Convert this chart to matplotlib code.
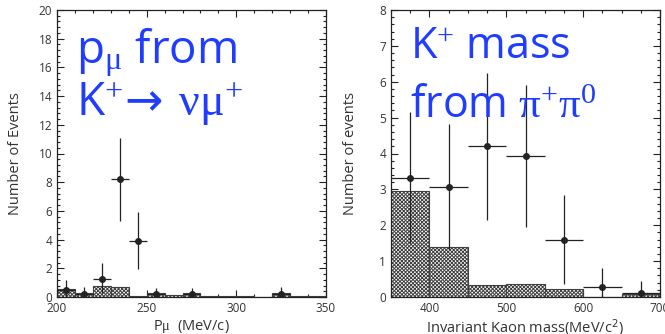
import numpy as np
import matplotlib
matplotlib.use("Agg")
import matplotlib.pyplot as plt
from matplotlib.ticker import MultipleLocator

plt.rcParams["font.family"] = ["Open Sans", "DejaVu Sans"]
plt.rcParams["mathtext.fontset"] = "custom"
plt.rcParams["mathtext.rm"] = "Liberation Serif"
plt.rcParams["mathtext.it"] = "Liberation Serif:italic"
plt.rcParams["mathtext.sf"] = "DejaVu Sans"
plt.rcParams["hatch.linewidth"] = 0.7

# ---- muon momentum from K+ -> nu mu+ ----
mu_edges = [200, 210, 220, 230, 240, 250, 260, 270, 280, 290, 300, 310, 320, 330, 340, 350]
mu_bkg = [0.55, 0.25, 0.8, 0.7, 0.1, 0.25, 0.15, 0.25, 0.1, 0.1, 0.1, 0.0, 0.25, 0.05, 0.05]
mu_x = [205, 215, 225, 235, 245, 255, 275, 325]
mu_y = [0.5, 0.2, 1.25, 8.2, 3.9, 0.2, 0.2, 0.2]
mu_err_lo = [0.5, 0.2, 0.95, 2.9, 1.95, 0.2, 0.2, 0.2]
mu_err_hi = [0.7, 0.5, 1.1, 2.85, 2.0, 0.4, 0.45, 0.5]
mu_xerr = [5, 5, 5, 5, 5, 5, 5, 5]

# ---- invariant kaon mass from pi+ pi0 ----
k_edges = [350, 400, 450, 500, 550, 600, 650, 700]
k_bkg = [2.95, 1.38, 0.33, 0.37, 0.22, 0.0, 0.08]
k_x = [375, 425, 475, 525, 575, 625, 675]
k_y = [3.33, 3.08, 4.2, 3.93, 1.6, 0.28, 0.1]
k_err_lo = [1.83, 1.73, 2.05, 1.98, 1.25, 0.28, 0.1]
k_err_hi = [1.82, 1.75, 2.05, 1.97, 1.25, 0.52, 0.35]
k_xerr = [25, 25, 25, 25, 25, 25, 25]

BLUE = "#1f3cff"
INK = "#222222"
TXT = "#333333"

fig = plt.figure(figsize=(6.65, 3.34), dpi=100)
axL = fig.add_axes([57 / 665, 37 / 334, 269 / 665, 287 / 334])
axR = fig.add_axes([391 / 665, 37 / 334, 269 / 665, 287 / 334])


def draw_panel(ax, edges, bkg, x, y, lo, hi, xerr):
    edges = np.asarray(edges, dtype=float)
    widths = np.diff(edges)
    ax.bar(edges[:-1], bkg, width=widths, align="edge", facecolor="white",
           edgecolor="#404040", hatch="xxxxxxxxx", linewidth=0.8, zorder=2)
    ax.errorbar(x, y, yerr=[lo, hi], xerr=xerr, fmt="o", color=INK, ms=4,
                elinewidth=0.9, capsize=0, zorder=3)
    ax.tick_params(which="both", direction="in", top=True, right=True,
                   colors=INK, labelcolor=TXT, labelsize=8.5, width=0.8)
    ax.tick_params(which="major", length=5)
    ax.tick_params(which="minor", length=2.5)
    for s in ax.spines.values():
        s.set_linewidth(0.9)
        s.set_color(INK)


draw_panel(axL, mu_edges, mu_bkg, mu_x, mu_y, mu_err_lo, mu_err_hi, mu_xerr)
axL.set_xlim(200, 350)
axL.set_ylim(0, 20)
axL.xaxis.set_major_locator(MultipleLocator(50))
axL.xaxis.set_minor_locator(MultipleLocator(10))
axL.yaxis.set_major_locator(MultipleLocator(2))
axL.yaxis.set_minor_locator(MultipleLocator(0.4))
axL.set_xlabel(r"P$\mathrm{\mu}$  (MeV/c)", fontsize=10.5, color=TXT, labelpad=2)
axL.set_ylabel("Number of Events", fontsize=10.5, color=TXT, labelpad=11)

draw_panel(axR, k_edges, k_bkg, k_x, k_y, k_err_lo, k_err_hi, k_xerr)
axR.set_xlim(350, 700)
axR.set_ylim(0, 8)
axR.xaxis.set_major_locator(MultipleLocator(100))
axR.xaxis.set_minor_locator(MultipleLocator(25))
axR.yaxis.set_major_locator(MultipleLocator(1))
axR.yaxis.set_minor_locator(MultipleLocator(0.2))
axR.set_xlabel(r"Invariant Kaon mass(MeV/c$^{\mathsf{2}}$)", fontsize=10.5, color=TXT, labelpad=2)
axR.set_ylabel("Number of events", fontsize=10.5, color=TXT, labelpad=15)

# Overlaid titles
axL.text(0.07, 0.812, r"p$_{\mathrm{\mu}}$ from", transform=axL.transAxes,
         fontsize=33, color=BLUE, va="baseline", ha="left", zorder=5)
axL.text(0.07, 0.634, r"K$^{\mathrm{+}}\!\mathsf{\rightarrow}\;\mathrm{\nu\mu}^{\mathrm{+}}$",
         transform=axL.transAxes, fontsize=33, color=BLUE, va="baseline",
         ha="left", zorder=5)
axR.text(0.07, 0.833, r"K$^{\mathrm{+}}$ mass", transform=axR.transAxes,
         fontsize=31, color=BLUE, va="baseline", ha="left", zorder=5)
axR.text(0.07, 0.627, r"from $\mathrm{\pi^{+}\pi^{0}}$", transform=axR.transAxes,
         fontsize=31, color=BLUE, va="baseline", ha="left", zorder=5)

fig.savefig("out.png", dpi=100)
